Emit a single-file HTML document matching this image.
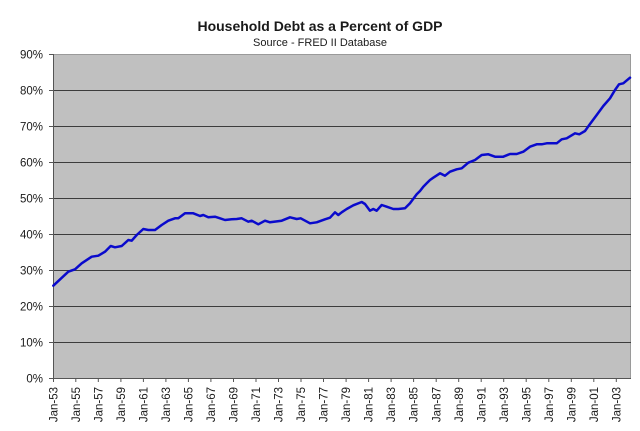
<!DOCTYPE html>
<html>
<head>
<meta charset="utf-8">
<style>
  html, body { margin: 0; padding: 0; background: #ffffff; }
  body { width: 640px; height: 431px; overflow: hidden; }
  svg { display: block; }
  text { font-family: "Liberation Sans", Arial, sans-serif; fill: #1a1a1a; }
</style>
</head>
<body>
<svg width="640" height="431" viewBox="0 0 640 431" xmlns="http://www.w3.org/2000/svg">
  <rect x="0" y="0" width="640" height="431" fill="#ffffff"/>

  <!-- Titles -->
  <text x="320" y="31" text-anchor="middle" font-size="14" font-weight="bold" fill="#111">Household Debt as a Percent of GDP</text>
  <text x="320" y="46" text-anchor="middle" font-size="11" fill="#333">Source - FRED II Database</text>

  <!-- Plot area -->
  <rect x="53" y="54" width="578" height="324" fill="#c0c0c0"/>
  <polyline points="53,54.5 630.5,54.5 630.5,378" fill="none" stroke="#9a9a9a" stroke-width="1"/>

  <!-- Gridlines -->
  <g stroke="#3c3c3c" stroke-width="1">
    <line x1="53" y1="90.5" x2="631" y2="90.5"/>
    <line x1="53" y1="126.5" x2="631" y2="126.5"/>
    <line x1="53" y1="162.5" x2="631" y2="162.5"/>
    <line x1="53" y1="198.5" x2="631" y2="198.5"/>
    <line x1="53" y1="234.5" x2="631" y2="234.5"/>
    <line x1="53" y1="270.5" x2="631" y2="270.5"/>
    <line x1="53" y1="306.5" x2="631" y2="306.5"/>
    <line x1="53" y1="342.5" x2="631" y2="342.5"/>
  </g>

  <!-- Axes -->
  <g stroke="#555" stroke-width="1">
    <line x1="53.5" y1="54" x2="53.5" y2="378.5"/>
    <line x1="53" y1="378.5" x2="631" y2="378.5"/>
    <!-- y ticks -->
    <line x1="49" y1="54.5" x2="53" y2="54.5"/>
    <line x1="49" y1="90.5" x2="53" y2="90.5"/>
    <line x1="49" y1="126.5" x2="53" y2="126.5"/>
    <line x1="49" y1="162.5" x2="53" y2="162.5"/>
    <line x1="49" y1="198.5" x2="53" y2="198.5"/>
    <line x1="49" y1="234.5" x2="53" y2="234.5"/>
    <line x1="49" y1="270.5" x2="53" y2="270.5"/>
    <line x1="49" y1="306.5" x2="53" y2="306.5"/>
    <line x1="49" y1="342.5" x2="53" y2="342.5"/>
    <line x1="49" y1="378.5" x2="53" y2="378.5"/>
    <!-- x ticks -->
    <line x1="53.5" y1="378" x2="53.5" y2="382"/>
    <line x1="75.8" y1="378" x2="75.8" y2="382"/>
    <line x1="98.3" y1="378" x2="98.3" y2="382"/>
    <line x1="120.9" y1="378" x2="120.9" y2="382"/>
    <line x1="143.4" y1="378" x2="143.4" y2="382"/>
    <line x1="165.9" y1="378" x2="165.9" y2="382"/>
    <line x1="188.4" y1="378" x2="188.4" y2="382"/>
    <line x1="210.9" y1="378" x2="210.9" y2="382"/>
    <line x1="233.5" y1="378" x2="233.5" y2="382"/>
    <line x1="256" y1="378" x2="256" y2="382"/>
    <line x1="278.5" y1="378" x2="278.5" y2="382"/>
    <line x1="301" y1="378" x2="301" y2="382"/>
    <line x1="323.5" y1="378" x2="323.5" y2="382"/>
    <line x1="346.1" y1="378" x2="346.1" y2="382"/>
    <line x1="368.6" y1="378" x2="368.6" y2="382"/>
    <line x1="391.1" y1="378" x2="391.1" y2="382"/>
    <line x1="413.6" y1="378" x2="413.6" y2="382"/>
    <line x1="436.2" y1="378" x2="436.2" y2="382"/>
    <line x1="458.7" y1="378" x2="458.7" y2="382"/>
    <line x1="481.2" y1="378" x2="481.2" y2="382"/>
    <line x1="503.7" y1="378" x2="503.7" y2="382"/>
    <line x1="526.2" y1="378" x2="526.2" y2="382"/>
    <line x1="548.8" y1="378" x2="548.8" y2="382"/>
    <line x1="571.3" y1="378" x2="571.3" y2="382"/>
    <line x1="593.8" y1="378" x2="593.8" y2="382"/>
    <line x1="616.3" y1="378" x2="616.3" y2="382"/>
  </g>

  <!-- Y labels -->
  <g font-size="11.5" text-anchor="end">
    <text x="43" y="58.5">90%</text>
    <text x="43" y="94.5">80%</text>
    <text x="43" y="130.5">70%</text>
    <text x="43" y="166.5">60%</text>
    <text x="43" y="202.5">50%</text>
    <text x="43" y="238.5">40%</text>
    <text x="43" y="274.5">30%</text>
    <text x="43" y="310.5">20%</text>
    <text x="43" y="346.5">10%</text>
    <text x="43" y="382.5">0%</text>
  </g>

  <!-- X labels (rotated) -->
  <g font-size="11.5" text-anchor="end">
    <text transform="translate(57.5,387) rotate(-90)">Jan-53</text>
    <text transform="translate(79.9,387) rotate(-90)">Jan-55</text>
    <text transform="translate(102.4,387) rotate(-90)">Jan-57</text>
    <text transform="translate(125,387) rotate(-90)">Jan-59</text>
    <text transform="translate(147.5,387) rotate(-90)">Jan-61</text>
    <text transform="translate(170,387) rotate(-90)">Jan-63</text>
    <text transform="translate(192.5,387) rotate(-90)">Jan-65</text>
    <text transform="translate(215,387) rotate(-90)">Jan-67</text>
    <text transform="translate(237.6,387) rotate(-90)">Jan-69</text>
    <text transform="translate(260.1,387) rotate(-90)">Jan-71</text>
    <text transform="translate(282.6,387) rotate(-90)">Jan-73</text>
    <text transform="translate(305.1,387) rotate(-90)">Jan-75</text>
    <text transform="translate(327.6,387) rotate(-90)">Jan-77</text>
    <text transform="translate(350.2,387) rotate(-90)">Jan-79</text>
    <text transform="translate(372.7,387) rotate(-90)">Jan-81</text>
    <text transform="translate(395.2,387) rotate(-90)">Jan-83</text>
    <text transform="translate(417.7,387) rotate(-90)">Jan-85</text>
    <text transform="translate(440.3,387) rotate(-90)">Jan-87</text>
    <text transform="translate(462.8,387) rotate(-90)">Jan-89</text>
    <text transform="translate(485.3,387) rotate(-90)">Jan-91</text>
    <text transform="translate(507.8,387) rotate(-90)">Jan-93</text>
    <text transform="translate(530.3,387) rotate(-90)">Jan-95</text>
    <text transform="translate(552.9,387) rotate(-90)">Jan-97</text>
    <text transform="translate(575.4,387) rotate(-90)">Jan-99</text>
    <text transform="translate(597.9,387) rotate(-90)">Jan-01</text>
    <text transform="translate(620.4,387) rotate(-90)">Jan-03</text>
  </g>

  <!-- Data series -->
  <polyline fill="none" stroke="#0a0acc" stroke-width="2.5" stroke-linejoin="round" stroke-linecap="round"
    points="53.3,285.7 68.3,271.7 75,269.3 81.7,263.3 91.7,256.7 98.3,255.7 105,251.7 110.7,246 115,247.3 121.7,246 128.3,240 131.7,240.7 136.7,235 143.3,229 148.3,230 155,230 161.7,225 168.3,220.7 175,218.3 178.3,218.3 185,213.3 193.3,213.3 200,216 203.3,215 208.3,217.3 215,216.7 220,218.3 225,220 231.7,219.3 236.7,219 241.7,218.3 248.3,221.7 251.7,220.7 258.3,224.3 265,220.7 270,222.3 281.7,220.7 290,217.3 296.7,219 300.7,218.3 310,223.3 316.7,222.3 325,219.3 330,217.7 335,212.3 338.3,215 341.7,212.3 346.7,209 353.3,205.3 361.7,202 365,204 370,210.7 373.3,209 376.7,210.7 381.7,205 386.7,206.7 393.3,209 398.3,209 405,208.3 410,203.3 416.7,194.3 420,191 423.3,186.7 426.7,183.3 430,180 433.3,177.7 440,173.3 445,175.7 450,171.7 456.7,169.3 461.7,168.3 468.3,162.7 475,160 481.7,155 488.3,154.3 495,156.7 503.3,156.7 510,154 516.7,154 523.3,151.7 530,146.7 536.7,144.3 541.7,144.3 546.7,143.3 556.7,143.3 561.7,139.3 566.7,138.3 575,133.3 579.3,134.3 585,131 590,124 596.7,115 603.3,106 610,98.3 615,90 619,84.3 623.3,83.3 630,77.7"/>
</svg>
</body>
</html>
